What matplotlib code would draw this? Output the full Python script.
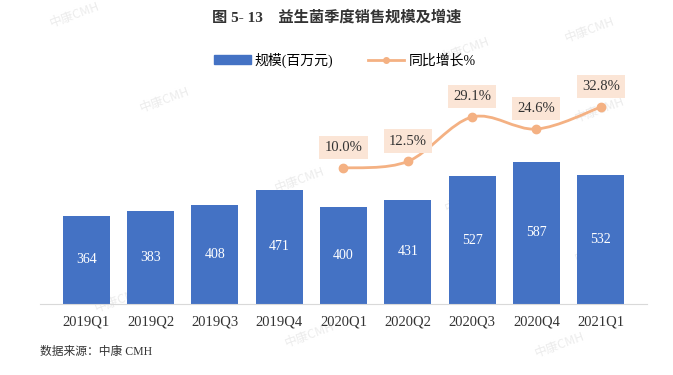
import matplotlib.pyplot as plt
from matplotlib.path import Path
from matplotlib.patches import PathPatch, Patch
from matplotlib.lines import Line2D

plt.rcParams['font.family'] = ['Liberation Serif', 'Noto Sans CJK SC']

quarters = ['2019Q1', '2019Q2', '2019Q3', '2019Q4', '2020Q1', '2020Q2', '2020Q3', '2020Q4', '2021Q1']
scale = [364, 383, 408, 471, 400, 431, 527, 587, 532]
growth_idx = [4, 5, 6, 7, 8]
growth = [10.0, 12.5, 29.1, 24.6, 32.8]

bar_color = '#4472C4'
line_color = '#F4B183'

fig = plt.figure(figsize=(6.73, 3.75), dpi=100)
ax = fig.add_axes([40 / 673, 71 / 375, 607 / 673, 214 / 375])
ax.patch.set_alpha(0)
x = list(range(len(quarters)))
ax.bar(x, scale, width=0.73, color=bar_color, zorder=2)
for xi, v in zip(x, scale):
    ax.text(xi, v / 2, str(v), ha='center', va='center', color='white', fontsize=10)
ax.set_xlim(-0.72, 8.72)
ax.set_ylim(0, 884)
ax.set_yticks([])
ax.set_xticks(x)
ax.set_xticklabels(quarters, fontsize=10.5, color='#333333')
ax.tick_params(axis='x', length=0, pad=8)
for s in ['top', 'right', 'left']:
    ax.spines[s].set_visible(False)
ax.spines['bottom'].set_color('#d9d9d9')

ax2 = ax.twinx()
ax2.patch.set_alpha(0)
ax2.set_ylim(-40.8, 39.2)
ax2.set_yticks([])
for s in ax2.spines.values():
    s.set_visible(False)

# smooth line through the points (Catmull-Rom as cubic Bezier)
px = growth_idx
py = growth
verts = [(px[0], py[0])]
codes = [Path.MOVETO]
n = len(px)
for i in range(n - 1):
    p0 = (px[max(i - 1, 0)], py[max(i - 1, 0)])
    p1 = (px[i], py[i])
    p2 = (px[i + 1], py[i + 1])
    p3 = (px[min(i + 2, n - 1)], py[min(i + 2, n - 1)])
    c1 = (p1[0] + (p2[0] - p0[0]) / 6, p1[1] + (p2[1] - p0[1]) / 6)
    c2 = (p2[0] - (p3[0] - p1[0]) / 6, p2[1] - (p3[1] - p1[1]) / 6)
    verts += [c1, c2, p2]
    codes += [Path.CURVE4] * 3
ax2.add_patch(PathPatch(Path(verts, codes), fill=False, edgecolor=line_color, lw=2, zorder=3))
ax2.plot(px, py, 'o', color=line_color, ms=6, zorder=4)
for xi, g in zip(px, py):
    ax2.annotate(f'{g:.1f}%', (xi, g), xytext=(0, 10), textcoords='offset points',
                 ha='center', va='bottom', fontsize=10.5, color='#333333',
                 bbox=dict(boxstyle='square,pad=0.35', fc='#FBE5D6', ec='none'))

fig.text(0.5, 1 - 17 / 375, '图 5- 13    益生菌季度销售规模及增速', ha='center', va='center',
         fontsize=11, fontweight='bold', color='#333333')
handles = [Patch(color=bar_color), Line2D([], [], color=line_color, lw=2, marker='o', ms=4)]
fig.legend(handles, ['规模(百万元)', '同比增长%'], loc='center', bbox_to_anchor=(345 / 673, 1 - 60 / 375),
           ncol=2, frameon=False, fontsize=10, handlelength=2.6, columnspacing=2.5, handletextpad=0.3)
fig.text(40 / 673, 1 - 352 / 375, '数据来源：中康 CMH', ha='left', va='center', fontsize=8.5, color='#333333')

for wx, wy in [(75, 15), (590, 30), (465, 50), (165, 100), (600, 110), (300, 180), (600, 250),
               (120, 300), (310, 335), (560, 345), (470, 200)]:
    fig.text(wx / 673, 1 - wy / 375, '中康CMH', rotation=20, fontsize=9, color='#ececec',
             ha='center', va='center', zorder=-1, family=['Noto Sans CJK SC'])

fig.savefig('out.png', dpi=100)
